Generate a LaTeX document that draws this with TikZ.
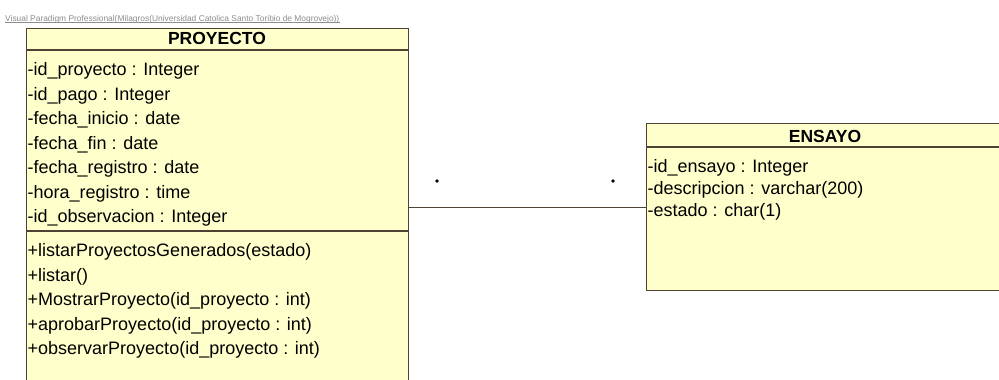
\documentclass[tikz,border=0pt]{standalone}
\usepackage{fontspec}
\setmainfont{Liberation Sans}
\definecolor{umlfill}{HTML}{FFFFCC}
\definecolor{umlline}{HTML}{4F4232}
\definecolor{wmgray}{HTML}{8C8C8C}
\tikzset{
  classbox/.style={draw=umlline, fill=umlfill, line width=1.2pt, inner sep=0pt, anchor=north west},
  rowtext/.style={anchor=base west, inner sep=0pt, font=\fontsize{18}{22}\selectfont, text=black},
  titletext/.style={anchor=base, inner sep=0pt, font=\fontsize{17.5}{21}\selectfont\bfseries, text=black},
  sepline/.style={draw=umlline, line width=1.2pt},
  assoc/.style={draw=umlline, line width=1pt},
  multdot/.style={circle, fill=black, inner sep=0pt, minimum size=3.8pt}
}
\begin{document}
\begin{tikzpicture}[x=1pt,y=-1pt]
\useasboundingbox (0,0) rectangle (999,380);
\fill[white] (0,0) rectangle (999,380);
\begin{scope}
\clip (0,0) rectangle (999,380);
% watermark
\node[anchor=base west, inner sep=0pt, text=wmgray, font=\fontsize{8.4}{10}\selectfont] (wm) at (5,21) {Visual Paradigm Professional(Milagros(Universidad Catolica Santo Toribio de Mogrovejo))};
\draw[wmgray, line width=0.5pt] ([yshift=-1.5pt]wm.base west) -- ([yshift=-1.5pt]wm.base east);
% PROYECTO class
\node[classbox, minimum width=382pt, minimum height=392pt] (proyecto) at (26,28) {};
\draw[sepline] (26,50) -- (408,50);
\draw[sepline] (26,231) -- (408,231);
\node[titletext] (ptitle) at (217,44.5) {PROYECTO};
\foreach \t [count=\i] in {-id\_proyecto : Integer, -id\_pago : Integer, -fecha\_inicio : date, -fecha\_fin : date, -fecha\_registro : date, -hora\_registro : time, -id\_observacion : Integer}
  \node[rowtext] (pa\i) at (27.5, {69+(\i-1)*24.5+6.5}) {\t};
\foreach \t [count=\i] in {+listarProyectosGenerados(estado), +listar(), +MostrarProyecto(id\_proyecto : int), +aprobarProyecto(id\_proyecto : int), +observarProyecto(id\_proyecto : int)}
  \node[rowtext] (pm\i) at (27.5, {250+(\i-1)*24.5+6.5}) {\t};
% ENSAYO class
\node[classbox, minimum width=358pt, minimum height=167pt] (ensayo) at (646,123) {};
\draw[sepline] (646,147) -- (1010,147);
\node[titletext] (etitle) at (825,142.5) {ENSAYO};
\foreach \t [count=\i] in {-id\_ensayo : Integer, -descripcion : varchar(200), -estado : char(1)}
  \node[rowtext] (ea\i) at (647.5, {166+(\i-1)*22+6.5}) {\t};
% association
\draw[assoc] (ensayo.west -| proyecto.east) -- (ensayo.west);
\node[multdot] (m1) at (437,181) {};
\node[multdot] (m2) at (613,181) {};
\end{scope}
\end{tikzpicture}
\end{document}
